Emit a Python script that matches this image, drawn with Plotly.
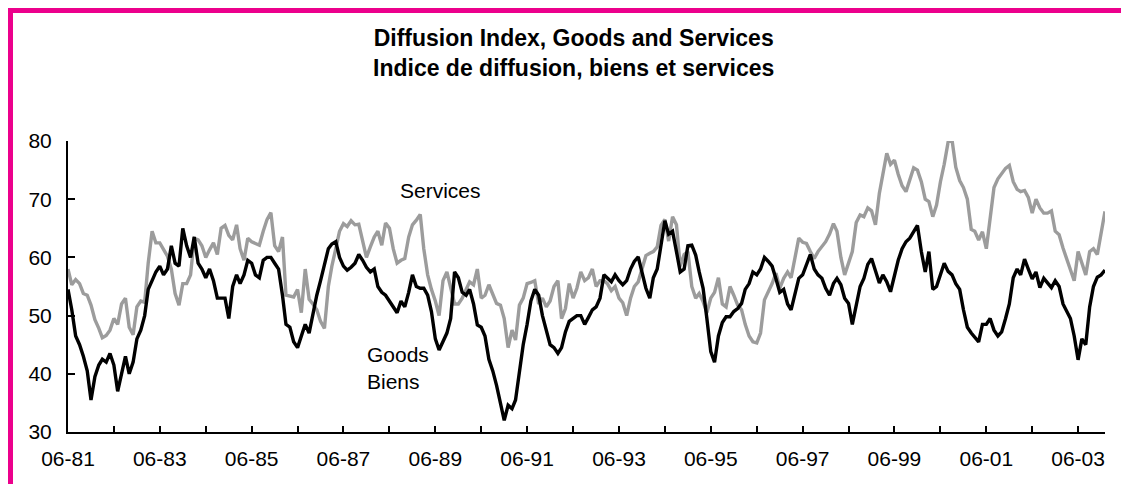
import pandas as pd
import plotly.graph_objects as go

start_month = "1981-06-01"

goods = [
    54.5, 51, 46.5, 45, 43, 40.5, 35.5, 39.5, 41.5, 42.5,
    42, 43.5, 41.5, 37, 40, 43, 40, 42, 46, 47.5,
    50, 54.5, 56, 57.5, 58.5, 57, 58, 62, 59, 58.5,
    65, 62, 60, 63.5, 59, 58, 56.5, 58, 56, 53,
    53, 53, 49.5, 55, 57, 55.5,
    57, 59.5, 59, 57, 56.5, 59.5, 60, 60, 59, 58,
    53.5, 48.5, 48, 45.5, 44.5, 46.5, 48.5, 47, 50.5, 53.5,
    56, 59, 61.5, 62.3, 62.7, 60, 58.5, 57.8, 58.3, 59,
    60.5, 59.5, 58.3, 57.5, 58, 55, 54, 53.5, 52.5, 51.5,
    50.5, 52.5, 51.5, 54, 57,
    55, 54.7, 54.7, 53.5, 50.7, 46, 44.1, 45.5, 47, 49.5,
    57.5, 56.5, 54, 53.5, 54.5, 52, 48.4, 48, 46.5, 42.5,
    40.5, 38, 35, 32, 34.6, 34, 35.5, 40.4, 45, 48.5,
    52.5, 54.5, 53.5, 50, 47.5, 45, 44.5, 43.5, 44.5, 47.2,
    49, 49.5, 50, 50, 48.5,
    49.7, 51, 51.5, 53, 57, 56.4, 55.8, 57, 56, 55.3,
    56, 58, 59.3, 60.1, 57.5, 54.7, 53, 56.5, 58, 62.5,
    66.3, 64, 64.5, 61, 57.5, 58, 62, 62.1, 60.4, 57.5,
    54.7, 49.5, 43.8, 42, 46.5, 48.8, 49.8, 49.8, 50.7, 51.2,
    52.1, 54.5, 55.5, 57.5, 57,
    58, 60, 59.3, 58.5, 56.3, 54, 54.5, 52, 51, 54,
    56.4, 57, 58.7, 60.5, 58, 57, 56.4, 54.7, 53.5, 55.5,
    56.4, 55.3, 53, 52.1, 48.5, 51.5, 55, 56.4, 58.8, 59.8,
    57.5, 55.6, 57, 55.8, 54.1, 57, 59.5, 61.5, 62.7, 63.3,
    64.5, 65.5, 61, 57.5, 61,
    54.5, 55, 57, 59, 57.6, 57, 55.5, 54.5, 51, 48,
    47, 46.3, 45.5, 48.5, 48.5, 49.5, 47.5, 46.5, 47.2, 49.5,
    52, 56.5, 58, 57, 59.7, 58, 56.3, 57.5, 54.8, 56.4,
    55.5, 54.8, 56, 55, 52, 50.9, 49.5, 46.5, 42.4, 46,
    45, 51.5, 55, 56.6, 57, 57.8,
]

services = [
    58, 55.3, 56.2, 55.5, 53.8, 53.5, 51.8, 49.3, 47.8, 46.2,
    46.6, 47.5, 49.5, 48.5, 52, 53, 48, 46.7, 51.5, 52.5,
    52.3, 59, 64.5, 62.5, 62.5, 61.3, 60.2, 58, 53.8, 51.8,
    55.5, 55.5, 57, 63.3, 63, 62, 60, 61.3, 62.5, 60.5,
    65, 65.5, 63.8, 63, 65.6, 61.5,
    59.5, 63.3, 62.7, 62.4, 62.1, 64.5, 66.5, 67.7, 62, 61,
    63.5, 53.5, 53.3, 53.2, 54.5, 50.5, 58, 52.8, 52, 51,
    49, 47.8, 55, 58.5, 61.5, 64.5, 65.8, 65.3, 66.3, 65.6,
    65.7, 63, 60, 61.8, 63.5, 64.5, 62.1, 65.9, 65, 61.5,
    59, 59.5, 59.8, 63.5, 65.6,
    66.4, 67.4, 61.5, 57, 54.5, 52.5, 50, 56, 57.5, 54.7,
    52, 52, 53, 54.5, 55.8, 55.3, 58, 53, 53.5, 55.3,
    53.5, 52.1, 51.8, 49.5, 44.5, 47.5, 45.8, 51.8, 53, 55.5,
    55.7, 56, 52, 53, 51.5, 52.5, 55, 56, 49.5, 51.2,
    55.5, 53, 54.7, 57.5, 56,
    56.5, 58, 55, 56, 56, 55.5, 54.3, 55, 53, 52.2,
    50, 53, 55, 55.8, 57.8, 60.3, 60.7, 61, 61.8, 65.5,
    66.5, 62.8, 67, 65.6, 58.5, 60.5, 61, 55, 53, 53.8,
    52.4, 50.5, 53, 54, 56.5, 52, 51.5, 55, 53.5, 51.8,
    51, 48.5, 46.5, 45.5, 45.3,
    47, 52.7, 54, 55.5, 57.3, 54.7, 56.4, 57.5, 56.5, 60,
    63.3, 62.6, 62.4, 61, 59.8, 61, 61.8, 62.7, 64, 65.8,
    64.5, 60, 57, 59, 61, 66, 67.3, 67, 68.5, 68,
    65.6, 71, 74, 77.9, 76, 76.7, 74.3, 72.3, 71.3, 73.5,
    75.4, 75, 73, 70, 69.6,
    67, 69, 73, 76, 79.8, 80.2, 75.5, 73.2, 72, 70,
    64.8, 64.5, 63, 64.4, 61.5, 66.5, 72, 73.5, 74.3, 75.3,
    75.8, 73, 71.7, 71.3, 71.5, 70.3, 67.6, 70, 68.5, 67.6,
    67.6, 68, 64.5, 63.9, 61.6, 59.8, 57.5, 56, 61, 59,
    57, 61, 61.5, 60.5, 64.5, 67.9,
]

tick_years = list(range(1981, 2004))
tick_labels = [f"06-{y % 100:02d}" if (y - 1981) % 2 == 0 else "" for y in tick_years]

title_line1 = "Diffusion Index, Goods and Services"
title_line2 = "Indice de diffusion, biens et services"

dates = pd.date_range(start=start_month, periods=len(goods), freq="MS")

FONT = "Arial, Liberation Sans, sans-serif"
MAGENTA = "#EC008C"

# plot area in pixels
L, R, T, B = 68, 1105, 141, 432
W, H = 1121, 484
PW, PH = R - L, B - T


def px_x(x):
    return (x - L) / PW


def px_y(y):
    return (B - y) / PH


fig = go.Figure()
fig.add_trace(go.Scatter(x=dates, y=services, mode="lines",
                         line=dict(color="#9C9C9C", width=3.4), name="Services"))
fig.add_trace(go.Scatter(x=dates, y=goods, mode="lines",
                         line=dict(color="#000000", width=3.4), name="Goods"))

fig.update_layout(
    width=W, height=H,
    margin=dict(l=L, r=W - R, t=T, b=H - B, pad=0),
    paper_bgcolor="white", plot_bgcolor="white",
    showlegend=False,
    font=dict(family=FONT, size=21, color="black"),
)

fig.update_xaxes(
    type="date",
    range=[dates[0], dates[-1]],
    tickmode="array",
    tickvals=[pd.Timestamp(f"{y}-06-01") for y in tick_years],
    ticktext=tick_labels,
    ticks="inside", ticklen=6, tickwidth=1.5, tickcolor="black",
    showline=True, linecolor="black", linewidth=2,
    showgrid=False, zeroline=False,
    tickfont=dict(size=21),
    ticklabelstandoff=7,
)
fig.update_yaxes(
    range=[30, 80], tickmode="linear", tick0=30, dtick=10,
    ticks="inside", ticklen=7, tickwidth=1.5, tickcolor="black",
    showline=True, linecolor="black", linewidth=2,
    showgrid=False, zeroline=False,
    tickfont=dict(size=21),
    ticklabelstandoff=10,
)

annots = [
    dict(text="<b>" + title_line1 + "</b><br><b>" + title_line2 + "</b>",
         x=px_x(573), y=px_y(53), font=dict(size=23)),
    dict(text="Services", x=px_x(440), y=px_y(190)),
    dict(text="Goods", x=px_x(365), y=px_y(354), xanchor="left"),
    dict(text="Biens", x=px_x(365), y=px_y(381), xanchor="left"),
]
for a in annots:
    a.setdefault("xanchor", "center")
    fig.add_annotation(xref="paper", yref="paper", yanchor="middle",
                       showarrow=False, **a)

fig.add_shape(type="rect", xref="paper", yref="paper",
              x0=px_x(8), x1=px_x(13), y0=px_y(500), y1=px_y(8),
              fillcolor=MAGENTA, line=dict(width=0), layer="above")
fig.add_shape(type="rect", xref="paper", yref="paper",
              x0=px_x(8), x1=px_x(1130), y0=px_y(13), y1=px_y(8),
              fillcolor=MAGENTA, line=dict(width=0), layer="above")

fig.write_html("out.html", config={"displayModeBar": False},
               post_script="document.body.style.margin='0';")
